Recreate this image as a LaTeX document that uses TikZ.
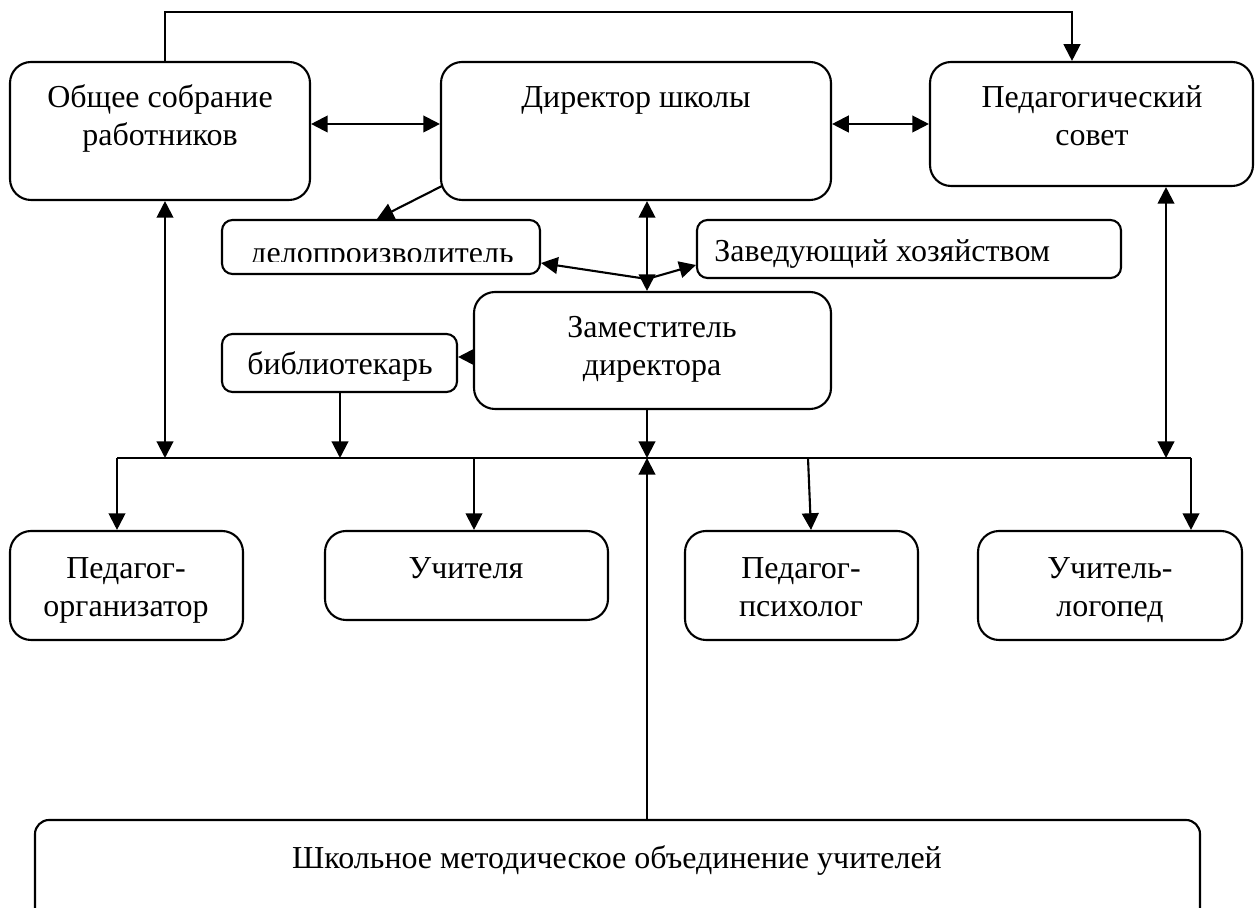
\documentclass[tikz,border=0pt]{standalone}
\usepackage{fontspec}
\setmainfont{Liberation Serif}
\usetikzlibrary{arrows.meta,fit}
\begin{document}
\begin{tikzpicture}[x=0.02cm,y=-0.02cm,
  box/.style={draw,line width=1.2pt,rounded corners=12pt,inner sep=0pt},
  sbox/.style={box,rounded corners=6pt},
  txt/.style={font=\fontsize{18.2}{21.8}\selectfont,align=center,anchor=base,inner sep=0pt},
  conn/.style={line width=1.2pt},
  arr/.style={conn,-{Triangle[length=9.5pt,width=9.5pt]}},
  dbl/.style={conn,{Triangle[length=9.5pt,width=9.5pt]}-{Triangle[length=9.5pt,width=9.5pt]}}]
\clip (0,0) rectangle (1255,908);
\fill[white] (0,0) rectangle (1255,908);
% boxes
\node[box,fit={(10,62)(310,200)}] (obs) {};
\node[txt] at (160,146) {Общее собрание\\работников};
\node[box,fit={(441,62)(831,200)}] (dir) {};
\node[txt] at (636,108) {Директор школы};
\node[box,fit={(930,62)(1253,186)}] (ped) {};
\node[txt] at (1092,146) {Педагогический\\совет};
\node[sbox,fit={(222,220)(540,274)}] (delo) {};
\begin{scope}
\clip (222,215) rectangle (540,262);
\node[txt] at (382,264) {делопроизводитель};
\end{scope}
\node[sbox,fit={(697,220)(1121,278)}] (zav) {};
\node[txt,anchor=base west] at (714,262) {Заведующий хозяйством};
\node[box,fit={(474,292)(831,409)}] (zam) {};
\node[txt] at (652,376) {Заместитель\\директора};
\node[sbox,fit={(222,334)(457,392)}] (bib) {};
\node[txt] at (340,375) {библиотекарь};
\node[box,fit={(10,531)(243,640)}] (org) {};
\node[txt] at (126,617) {Педагог-\\организатор};
\node[box,fit={(325,531)(608,620)}] (uch) {};
\node[txt] at (466,579) {Учителя};
\node[box,fit={(685,531)(918,640)}] (psy) {};
\node[txt] at (801,617) {Педагог-\\психолог};
\node[box,fit={(978,531)(1242,640)}] (log) {};
\node[txt] at (1110,617) {Учитель-\\логопед};
\node[box,rounded corners=8pt,fit={(35,820)(1200,940)}] (shk) {};
\node[txt] at (617,868) {Школьное методическое объединение учителей};
% helper coordinates
\coordinate (t1) at (165,12);
\coordinate (t2) at (1072,12);
\coordinate (h) at (0,124);
\coordinate (d1) at (442,186);
\coordinate (dt) at (377,0);
\coordinate (j) at (647,279);
\coordinate (dy) at (0,263);
\coordinate (zy) at (0,265);
\coordinate (by) at (0,357);
\coordinate (bx) at (340,458);
\coordinate (bl) at (117,458);
\coordinate (br) at (1191,458);
\coordinate (ux) at (474,458);
\coordinate (px) at (808,458);
\coordinate (px2) at (811,0);
\coordinate (rx) at (1166,458);
% connectors
\draw[arr] (obs.north -| t1) -- (t1) -- (t2) -- (ped.north -| t2);
\draw[dbl] (obs.east |- h) -- (dir.west |- h);
\draw[dbl] (dir.east |- h) -- (ped.west |- h);
\draw[arr] (d1) -- (delo.north -| dt);
\draw[dbl] (dir.south -| j) -- (zam.north -| j);
\draw[arr] (j) -- (delo.east |- dy);
\draw[arr] (j) -- (zav.west |- zy);
\draw[arr] (zam.west |- by) -- (bib.east |- by);
\draw[conn] (bl) -- (br);
\draw[arr] (bib.south -| bx) -- (bx);
\draw[arr] (zam.south -| j) -- (j |- bl);
\draw[dbl] (obs.south -| t1) -- (t1 |- bl);
\draw[dbl] (ped.south -| rx) -- (rx);
\draw[arr] (shk.north -| j) -- (j |- bl);
\draw[arr] (bl) -- (org.north -| bl);
\draw[arr] (ux) -- (uch.north -| ux);
\draw[arr] (px) -- (psy.north -| px2);
\draw[arr] (br) -- (log.north -| br);
\end{tikzpicture}
\end{document}
